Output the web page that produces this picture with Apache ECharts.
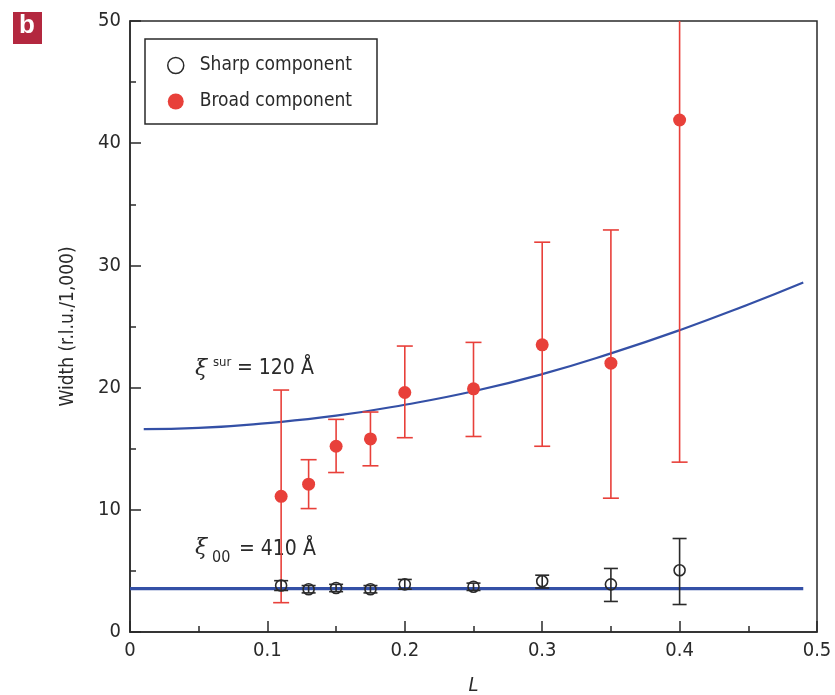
<!DOCTYPE html>
<html><head><meta charset="utf-8">
<script src="https://cdn.jsdelivr.net/npm/echarts@6/dist/echarts.min.js"></script>
<style>html,body{margin:0;padding:0;background:#fff}#c{width:835px;height:695px}</style>
</head><body><div id="c"></div>
<script>
// Data
var L_vals      = [0.11, 0.13, 0.15, 0.175, 0.2, 0.25, 0.3, 0.35, 0.4];
var broadWidth  = [11.1, 12.1, 15.2, 15.8, 19.6, 19.9, 23.5, 22.0, 41.9];
var broadLow    = [2.4, 10.1, 13.05, 13.6, 15.9, 16.0, 15.2, 10.95, 13.9];
var broadHigh   = [19.8, 14.1, 17.4, 18.0, 23.4, 23.7, 31.9, 32.9, 56.0];
var sharpWidth  = [3.8, 3.5, 3.6, 3.5, 3.9, 3.7, 4.15, 3.9, 5.05];
var sharpLow    = [3.4, 3.2, 3.3, 3.2, 3.5, 3.4, 3.6, 2.5, 2.25];
var sharpHigh   = [4.2, 3.8, 3.9, 3.8, 4.3, 4.0, 4.65, 5.2, 7.65];
var curveL      = [0.01, 0.05, 0.1, 0.15, 0.2, 0.25, 0.3, 0.35, 0.4, 0.45, 0.49];
var curveW      = [16.6, 16.7, 17.1, 17.7, 18.6, 19.7, 21.1, 22.8, 24.7, 26.8, 28.6];
var flatL       = [0, 0.49];
var flatW       = [3.55, 3.55];
var xTicks      = [0, 0.1, 0.2, 0.3, 0.4, 0.5];
var yTicks      = [0, 10, 20, 30, 40, 50];

var FONT = '"DejaVu Sans Condensed", "Liberation Sans Narrow", "Liberation Sans", Arial, sans-serif';
var RED = '#e8403a', BLUE = '#3450a6', DARK = '#2a2a2a';

function pairs(xs, ys){ return xs.map(function(x,i){ return [x, ys[i]]; }); }
function errData(lo, hi){ return L_vals.map(function(x,i){ return [x, lo[i], hi[i]]; }); }

function errRender(color, cap){
  return function(params, api){
    var x = api.value(0);
    var p1 = api.coord([x, api.value(1)]);
    var p2 = api.coord([x, api.value(2)]);
    var st = {stroke: color, lineWidth: 1.6};
    return {type:'group', children:[
      {type:'line', shape:{x1:p1[0],y1:p1[1],x2:p2[0],y2:p2[1]}, style:st},
      {type:'line', shape:{x1:p1[0]-cap,y1:p1[1],x2:p1[0]+cap,y2:p1[1]}, style:st},
      {type:'line', shape:{x1:p2[0]-cap,y1:p2[1],x2:p2[0]+cap,y2:p2[1]}, style:st}
    ]};
  };
}

var chart = echarts.init(document.getElementById('c'), null, {renderer:'canvas'});
chart.setOption({
  animation:false,
  textStyle:{fontFamily:FONT},
  grid:{left:130, right:18, top:21, bottom:63, outerBoundsMode:'none', containLabel:false,
    show:true, borderColor:DARK, borderWidth:1.5, backgroundColor:'transparent'},
  xAxis:{type:'value', min:0, max:0.5, interval:0.1,
    name:'L', nameLocation:'middle', nameGap:44,
    nameTextStyle:{fontFamily:FONT, fontSize:20, fontStyle:'italic', color:DARK},
    axisLine:{lineStyle:{color:DARK, width:1.5}},
    axisTick:{inside:true, length:11, lineStyle:{color:DARK, width:1.5}},
    minorTick:{show:true, splitNumber:2, length:6, lineStyle:{color:DARK, width:1.5}},
    splitLine:{show:false},
    axisLabel:{fontSize:20, color:DARK, margin:9, fontFamily:FONT,
      formatter:function(v){ return xTicks.indexOf(Math.round(v*10)/10) >= 0 ? String(Math.round(v*10)/10) : ''; }}
  },
  yAxis:{type:'value', min:0, max:50, interval:10,
    name:'Width (r.l.u./1,000)', nameLocation:'middle', nameGap:52,
    nameTextStyle:{fontFamily:FONT, fontSize:19, color:DARK},
    axisLine:{lineStyle:{color:DARK, width:1.5}},
    axisTick:{inside:true, length:11, lineStyle:{color:DARK, width:1.5}},
    minorTick:{show:true, splitNumber:2, length:6, lineStyle:{color:DARK, width:1.5}},
    splitLine:{show:false},
    axisLabel:{fontSize:20, color:DARK, margin:9, fontFamily:FONT,
      formatter:function(v){ return yTicks.indexOf(v) >= 0 ? String(v) : ''; }}
  },
  legend:{
    orient:'vertical', left:145, top:39,
    padding:[17, 25, 13, 22], itemGap:17, itemWidth:16, itemHeight:16,
    borderColor:DARK, borderWidth:1.5, backgroundColor:'#fff',
    textStyle:{fontFamily:FONT, fontSize:19, lineHeight:16, color:DARK, padding:[0,0,0,11]},
    data:[
      {name:'Sharp component', icon:'circle', itemStyle:{color:'#fff', borderColor:DARK, borderWidth:1.5}},
      {name:'Broad component', icon:'circle', itemStyle:{color:RED, borderWidth:0}}
    ]
  },
  series:[
    {type:'line', name:'fit sur', data:pairs(curveL, curveW), smooth:true, showSymbol:false,
      lineStyle:{color:BLUE, width:2.2}, z:2, silent:true},
    {type:'line', name:'fit 00', data:pairs(flatL, flatW), showSymbol:false,
      lineStyle:{color:BLUE, width:3.2}, z:2, silent:true},
    {type:'custom', name:'Broad err', data:errData(broadLow, broadHigh), renderItem:errRender(RED, 8), clip:true, z:3,
      encode:{x:0, y:[1,2]}},
    {type:'custom', name:'Sharp err', data:errData(sharpLow, sharpHigh), renderItem:errRender(DARK, 7), clip:true, z:3,
      encode:{x:0, y:[1,2]}},
    {type:'scatter', name:'Broad component', data:pairs(L_vals, broadWidth), symbol:'circle', symbolSize:13,
      itemStyle:{color:RED, opacity:1}, z:4},
    {type:'scatter', name:'Sharp component', data:pairs(L_vals, sharpWidth), symbol:'circle', symbolSize:11,
      itemStyle:{color:'rgba(255,255,255,0)', borderColor:DARK, borderWidth:1.6, opacity:1}, z:4}
  ],
  graphic:[
    {type:'rect', left:13, top:12, shape:{width:29, height:32}, style:{fill:'#b3283f'}},
    {type:'text', left:19, top:13, style:{text:'b', fill:'#fff', font:'bold 26px "Liberation Sans", Arial, sans-serif'}},
    {type:'text', left:195, top:358, style:{text:'ξ', fill:DARK, font:'italic 22px "DejaVu Serif", serif'}},
    {type:'text', left:213, top:356, style:{text:'sur', fill:DARK, font:'13px ' + FONT}},
    {type:'text', left:237, top:358, style:{text:'= 120 Å', fill:DARK, font:'21px ' + FONT}},
    {type:'text', left:195, top:537, style:{text:'ξ', fill:DARK, font:'italic 22px "DejaVu Serif", serif'}},
    {type:'text', left:212, top:550, style:{text:'00', fill:DARK, font:'16px ' + FONT}},
    {type:'text', left:239, top:539, style:{text:'= 410 Å', fill:DARK, font:'21px ' + FONT}}
  ]
});
</script></body></html>
